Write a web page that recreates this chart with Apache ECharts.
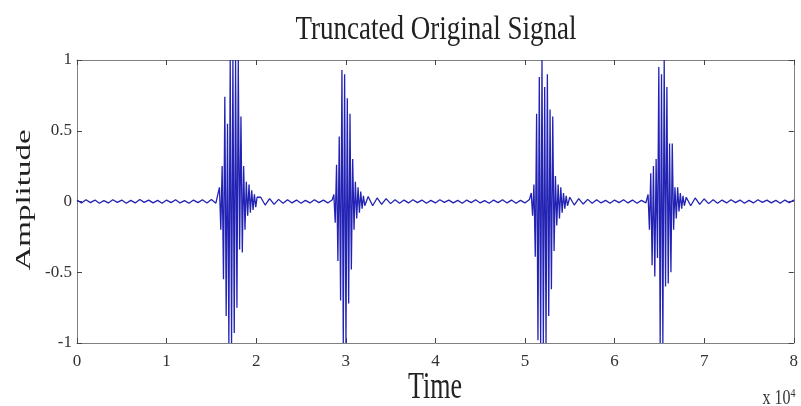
<!DOCTYPE html>
<html lang="en">
  <head>
    <meta charset="UTF-8" />
    <title>Truncated Original Signal</title>
    <script src="https://cdn.jsdelivr.net/npm/echarts@6/dist/echarts.min.js"></script>
    <style>
      html, body { margin: 0; padding: 0; background: #fff; }
      #main { width: 801px; height: 406px; }
    </style>
  </head>
  <body>
    <div id="main"></div>
    <script>
      // tick labels
      var xTicks = ["0", "1", "2", "3", "4", "5", "6", "7", "8"];
      var yTicks = ["-1", "-0.5", "0", "0.5", "1"];

      // quiet stretches, one value every 500 samples
      var quietStep = 500;
      var quietStart = [0, 20500, 32500, 55000, 68000];
      var quiet0 = [0.01, -0.01, 0.012, -0.008, 0.01, -0.012, 0.006, -0.01, 0.012, -0.006,
        0.01, -0.012, 0.008, -0.01, 0.014, -0.006, 0.01, -0.01, 0.008, -0.012,
        0.01, -0.008, 0.012, -0.01, 0.006, -0.012, 0.01, -0.008, 0.012, -0.01,
        0.014, -0.012];
      var quiet1 = [0.03, -0.025, 0.02, -0.02, 0.015, -0.012, 0.012, -0.01, 0.01, -0.012,
        0.008, -0.01, 0.012, -0.008, 0.01, -0.01, 0.012];
      var quiet2 = [0.035, -0.03, 0.025, -0.02, 0.02, -0.015, 0.012, -0.012, 0.01, -0.01,
        0.012, -0.008, 0.01, -0.012, 0.008, -0.01, 0.012, -0.006, 0.01, -0.01,
        0.008, -0.012, 0.01, -0.008, 0.012, -0.01, 0.006, -0.012, 0.01, -0.008,
        0.012, -0.01, 0.01, -0.012, 0.008, -0.01, 0.014];
      var quiet3 = [0.03, -0.025, 0.02, -0.018, 0.015, -0.012, 0.012, -0.01, 0.008, -0.012,
        0.01, -0.008, 0.012, -0.01, 0.01, -0.012, 0.008, -0.01];
      var quiet4 = [0.03, -0.03, 0.025, -0.02, 0.018, -0.015, 0.012, -0.012, 0.01, -0.01,
        0.012, -0.008, 0.01, -0.012, 0.008, -0.01, 0.012, -0.006, 0.01, -0.01,
        0.008, -0.012, 0.01, -0.008, 0.01];

      // bursts, one extreme every 150 samples
      var burstStep = 150;
      var burstStart = [15900, 28670, 50700, 63740];
      var burst1 = [0.1, -0.2, 0.25, -0.55, 0.74, -0.81, 0.55, -1, 1, -1,
        1, -0.93, 1, -0.75, 1, -0.34, 0.6, -0.36, 0.25, -0.2,
        0.14, -0.1, 0.12, -0.08, 0.08, -0.06, 0.05, -0.04, 0.03];
      var burst2 = [0.05, -0.15, 0.26, -0.42, 0.46, -0.7, 0.93, -1, 0.9, -1,
        0.73, -0.72, 0.62, -0.48, 0.3, -0.2, 0.14, -0.12, 0.1, -0.08,
        0.07, -0.05, 0.04, -0.03];
      var burst3 = [0.06, -0.1, 0.12, -0.39, 0.62, -0.98, 0.88, -1, 1, -1,
        0.81, -1, 0.9, -0.81, 0.65, -0.62, 0.6, -0.35, 0.18, -0.17,
        0.12, -0.12, 0.1, -0.08, 0.06, -0.05, 0.04, -0.03];
      var burst4 = [0.05, -0.2, 0.2, -0.45, 0.25, -0.53, 0.3, -0.4, 0.95, -1,
        0.9, -1, 1, -0.6, 0.81, -0.58, 0.41, -0.5, 0.41, -0.2,
        0.1, -0.12, 0.1, -0.07, 0.06, -0.05, 0.04, -0.03];

      var quiets = [quiet0, quiet1, quiet2, quiet3, quiet4];
      var bursts = [burst1, burst2, burst3, burst4];

      var points = [];
      function addRun(start, step, vals) {
        for (var i = 0; i < vals.length; i++) {
          points.push([start + i * step, vals[i]]);
        }
      }
      for (var k = 0; k < quiets.length; k++) {
        addRun(quietStart[k], quietStep, quiets[k]);
        if (k < bursts.length) addRun(burstStart[k], burstStep, bursts[k]);
      }
      points.push([80000, 0.005]);

      var serif = "Liberation Serif";
      var boxLine = { show: true, onZero: false, lineStyle: { color: "#808080", width: 1 } };
      var inTick = { show: true, inside: true, length: 5, lineStyle: { color: "#444" } };

      // the source picture is stretched a little in height, so its texts are too
      function label(txt, x, y, size, sx, sy, rot) {
        return {
          type: "text",
          x: x,
          y: y,
          rotation: rot || 0,
          scaleX: sx,
          scaleY: sy,
          style: {
            text: txt,
            fontFamily: serif,
            fontSize: size,
            fill: "#222",
            align: "center",
            verticalAlign: "middle",
          },
        };
      }

      var chart = echarts.init(document.getElementById("main"));
      var option = {
        backgroundColor: "#fff",
        animation: false,
        grid: { left: 77, right: 4, top: 60, bottom: 63 },
        xAxis: [
          {
            type: "value",
            min: 0,
            max: 80000,
            interval: 10000,
            axisLine: boxLine,
            axisTick: inTick,
            splitLine: { show: false },
            axisLabel: {
              fontFamily: serif,
              fontSize: 17,
              color: "#333",
              margin: 10,
              formatter: function (v) { return xTicks[Math.round(v / 10000)]; },
            },
          },
          {
            type: "value",
            position: "top",
            min: 0,
            max: 80000,
            interval: 10000,
            axisLine: boxLine,
            axisTick: inTick,
            axisLabel: { show: false },
            splitLine: { show: false },
          },
        ],
        yAxis: [
          {
            type: "value",
            min: -1,
            max: 1,
            interval: 0.5,
            axisLine: boxLine,
            axisTick: inTick,
            splitLine: { show: false },
            axisLabel: {
              fontFamily: serif,
              fontSize: 17,
              color: "#333",
              margin: 5,
              formatter: function (v) { return yTicks[Math.round((v + 1) * 2)]; },
            },
          },
          {
            type: "value",
            position: "right",
            min: -1,
            max: 1,
            interval: 0.5,
            axisLine: boxLine,
            axisTick: inTick,
            axisLabel: { show: false },
            splitLine: { show: false },
          },
        ],
        graphic: [
          label("Truncated Original Signal", 436, 30, 27, 1, 1.28),
          label("Time", 435, 388, 26, 1, 1.45),
          label("Amplitude", 24, 200, 22, 1.5, 1, Math.PI / 2),
          {
            type: "text",
            x: 779,
            y: 399,
            scaleY: 1.3,
            style: {
              text: "x 10{s|4}",
              fontFamily: serif,
              fontSize: 16,
              fill: "#333",
              align: "center",
              verticalAlign: "middle",
              rich: { s: { fontFamily: serif, fontSize: 10, verticalAlign: "top", padding: [0, 0, 8, 0] } },
            },
          },
        ],
        series: [
          {
            type: "line",
            data: points,
            showSymbol: false,
            sampling: "none",
            clip: true,
            lineStyle: { color: "#2222b4", width: 1.3 },
          },
        ],
      };
      chart.setOption(option);
    </script>
  </body>
</html>
